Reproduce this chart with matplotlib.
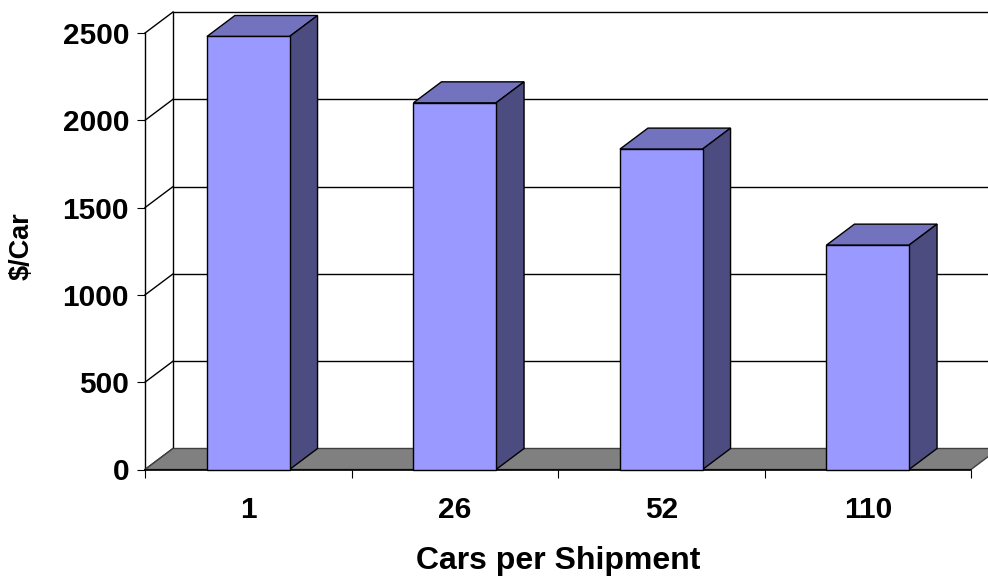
import matplotlib
matplotlib.use("Agg")
import matplotlib.pyplot as plt
from matplotlib.patches import Polygon
from matplotlib.lines import Line2D
from matplotlib.transforms import IdentityTransform

# Shipping cost per car by shipment size
categories = ["1", "26", "52", "110"]
cost_per_car = [2480, 2100, 1835, 1285]
y_ticks = [0, 500, 1000, 1500, 2000, 2500]

DPI = 100
DEPTH = (28, 21)          # oblique depth offset in pixels (right, up)
BAR_W = 0.40

FRONT = "#9999FF"
TOP = "#7272BF"
SIDE = "#4C4C80"
FLOOR = "#808080"

plt.rcParams["font.family"] = ["Liberation Sans", "DejaVu Sans"]
plt.rcParams["font.weight"] = "bold"

fig = plt.figure(figsize=(9.88, 5.76), dpi=DPI)
W, H = 988, 576
ax = fig.add_axes([145 / W, (H - 469.5) / H, (971 - 145) / W, (469.5 - 33) / H])
ax.set_xlim(-0.5, len(categories) - 0.5)
ax.set_ylim(0, y_ticks[-1])
ax.patch.set_visible(False)
for s in ax.spines.values():
    s.set_visible(False)

ident = IdentityTransform()


def pt(x, v, d=0.0):
    """Display coordinates of data point (x, v) pushed back by depth fraction d."""
    px, py = ax.transData.transform((x, v))
    return (px + d * DEPTH[0], py + d * DEPTH[1])


def poly(points, fc, ec="black", lw=1.0, z=1):
    ax.add_patch(Polygon(points, closed=True, facecolor=fc, edgecolor=ec,
                         linewidth=lw, transform=ident, clip_on=False, zorder=z,
                         joinstyle="miter"))


def line(points, color="black", lw=1.0, z=1):
    xs, ys = zip(*points)
    ax.add_line(Line2D(xs, ys, color=color, linewidth=lw, transform=ident,
                       clip_on=False, zorder=z))


x0, x1 = -0.5, len(categories) - 0.5

# back wall gridlines and left side wall
for v in y_ticks:
    line([pt(x0, v, 1), pt(x1, v, 1)], lw=1.0, z=1)
    line([pt(x0, v, 0), pt(x0, v, 1)], lw=1.0, z=1)
line([pt(x0, 0, 1), pt(x0, y_ticks[-1], 1)], lw=1.0, z=1)
line([pt(x0, 0, 0), pt(x0, y_ticks[-1], 0)], lw=1.0, z=1)

# floor
poly([pt(x0, 0, 0), pt(x1, 0, 0), pt(x1, 0, 1), pt(x0, 0, 1)], FLOOR, ec="#404040", lw=1.0, z=2)
line([pt(x0, 0, 0), pt(x1, 0, 0)], lw=1.2, z=3)

# bars
for i, v in enumerate(cost_per_car):
    l, r = i - BAR_W / 2, i + BAR_W / 2
    poly([pt(l, v, 0), pt(r, v, 0), pt(r, v, 1), pt(l, v, 1)], TOP, lw=1.0, z=4)
    poly([pt(r, 0, 0), pt(r, 0, 1), pt(r, v, 1), pt(r, v, 0)], SIDE, lw=1.0, z=4)
    poly([pt(l, 0, 0), pt(r, 0, 0), pt(r, v, 0), pt(l, v, 0)], FRONT, lw=1.0, z=5)

# axes ticks and labels
ax.set_yticks(y_ticks)
ax.set_yticklabels([str(t) for t in y_ticks], fontsize=21.5, fontweight="bold")
ax.tick_params(axis="y", direction="out", length=5.5, width=0.8, pad=6, color="black")

ax.set_xticks([i - 0.5 for i in range(len(categories) + 1)])
ax.set_xticklabels([])
ax.set_xticks(range(len(categories)), minor=True)
ax.set_xticklabels(categories, minor=True, fontsize=21.5, fontweight="bold")
ax.tick_params(axis="x", which="major", direction="out", length=6, width=0.8, color="black")
ax.tick_params(axis="x", which="minor", length=0, pad=19)

ax.set_xlabel("Cars per Shipment", fontsize=23, fontweight="bold", labelpad=16)
fig.text(22 / W, 1 - 246 / H, "$/Car", rotation=90, fontsize=19.5, fontweight="bold",
         ha="center", va="center")

fig.savefig("out.png", dpi=DPI, facecolor="white")
